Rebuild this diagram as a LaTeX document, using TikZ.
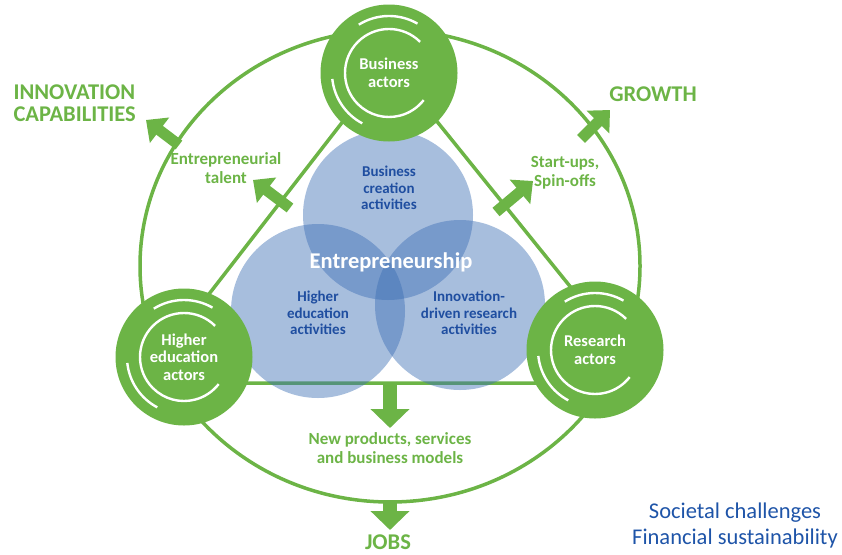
\documentclass[tikz,border=0pt]{standalone}
\usepackage{fontspec}
\setmainfont{Carlito}
\usetikzlibrary{arrows.meta,calc}
\definecolor{heigreen}{RGB}{108,180,70}
\definecolor{actblue}{RGB}{60,110,180}
\definecolor{txtblue}{RGB}{31,78,160}
\definecolor{ctxblue}{RGB}{30,84,168}

% white rings inside an actor circle
\newcommand{\actorrings}[1]{%
  \draw[ring] ([shift={(45:44pt)}]#1.center) arc[start angle=45, end angle=322, radius=44pt];
  \draw[ring] ([shift={(60:57pt)}]#1.center) arc[start angle=60, end angle=122, radius=57pt];
  \draw[ring] ([shift={(186:57pt)}]#1.center) arc[start angle=186, end angle=242, radius=57pt];
}

\begin{document}
\begin{tikzpicture}[
  x=1pt, y=-1pt,
  actor/.style={circle, fill=heigreen, minimum size=137pt, inner sep=0pt},
  actortext/.style={text=white, align=center, font=\bfseries\fontsize{16.5}{17.5}\selectfont},
  activity/.style={circle, fill=actblue, fill opacity=0.45, inner sep=0pt},
  acttext/.style={text=txtblue, align=center, font=\bfseries\fontsize{15}{16.5}\selectfont},
  flowtext/.style={text=heigreen, align=center, font=\bfseries\fontsize{17}{18.5}\selectfont},
  outcome/.style={text=heigreen, align=left, font=\bfseries\fontsize{22.5}{22}\selectfont},
  ring/.style={white, line width=2.4pt},
  frame/.style={heigreen, line width=3.5pt},
  blockarrow/.style={heigreen, line width=11pt, -{Triangle[length=17pt, width=31pt]}},
  bigarrow/.style={heigreen, line width=14pt, -{Triangle[length=19pt, width=38pt]}},
]
  \useasboundingbox (0,0) rectangle (842,554);

  % outer cycle and triangle
  \draw[frame] (390,266) ellipse[x radius=250pt, y radius=236pt];
  \coordinate (apex) at (389,62);
  \coordinate (leftcorner) at (140,383);
  \coordinate (rightcorner) at (648,383);
  \draw[frame] (apex) -- (leftcorner) -- (rightcorner) -- cycle;

  % block arrows
  \coordinate (capfrom) at (179,145);
  \coordinate (capto) at (146,120);
  \coordinate (talentfrom) at (290,208);
  \coordinate (talentto) at (253,180);
  \coordinate (spinfrom) at (496,212);
  \coordinate (spinto) at (533,181);
  \coordinate (growfrom) at (581,139);
  \coordinate (growto) at (610,110);
  \coordinate (prodfrom) at (390,383);
  \coordinate (prodto) at (390,428);
  \coordinate (jobsfrom) at (390,500);
  \coordinate (jobsto) at (390,530);
  \draw[blockarrow] (capfrom) -- (capto);
  \draw[blockarrow] (talentfrom) -- (talentto);
  \draw[blockarrow] (spinfrom) -- (spinto);
  \draw[blockarrow] (growfrom) -- (growto);
  \draw[bigarrow] (prodfrom) -- (prodto);
  \draw[bigarrow] (jobsfrom) -- (jobsto);

  % activities
  \node[activity, minimum size=170pt] (creation) at (388,215) {};
  \node[activity, minimum size=174pt] (education) at (318,311) {};
  \node[activity, minimum size=170pt] (research) at (460,305) {};
  \node[acttext] (creationtxt) at (389,188) {Business\\creation\\activities};
  \node[acttext] (educationtxt) at (318,313) {Higher\\education\\activities};
  \node[acttext] (researchtxt) at (469,313) {Innovation-\\driven research\\activities};
  \node[text=white, font=\bfseries\fontsize{22.5}{24}\selectfont] (hub) at (391,262) {Entrepreneurship};

  % actors
  \node[actor] (business) at (389,73) {};
  \node[actor] (higher) at (184,357) {};
  \node[actor] (researchers) at (595,350) {};
  \actorrings{business}
  \actorrings{higher}
  \actorrings{researchers}
  \node[actortext] at (business) {Business\\actors};
  \node[actortext] at (higher) {Higher\\education\\actors};
  \node[actortext] at (researchers) {Research\\actors};

  % labels
  \node[flowtext] (talent) at (226,168) {Entrepreneurial\\talent};
  \node[flowtext] (startups) at (565,173) {Start-ups,\\Spin-offs};
  \node[flowtext] (products) at (390,448) {New products, services\\and business models};
  \node[outcome, anchor=west] (capabilities) at (10,103) {INNOVATION\\CAPABILITIES};
  \node[outcome, anchor=base] (growth) at (653,101) {GROWTH};
  \node[outcome, anchor=base, inner sep=0pt] (jobs) at (388,549) {JOBS};
  \node[text=ctxblue, align=center, font=\fontsize{22.5}{26}\selectfont] (context) at (735,525) {Societal challenges\\Financial sustainability};
\end{tikzpicture}
\end{document}
